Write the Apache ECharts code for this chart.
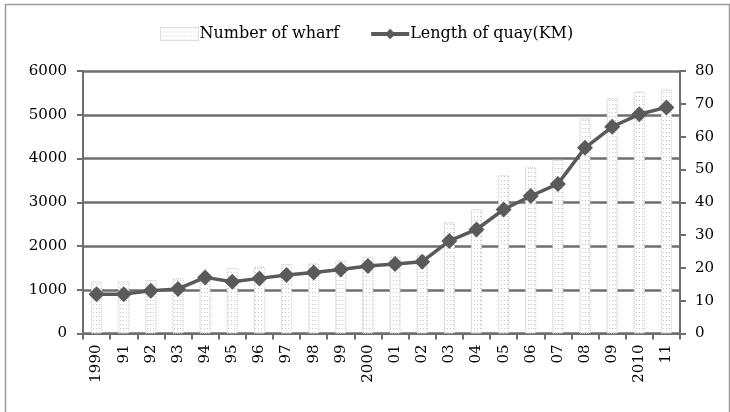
<!DOCTYPE html>
<html>
<head>
<meta charset="utf-8">
<script src="https://cdn.jsdelivr.net/npm/echarts@6/dist/echarts.min.js"></script>
<style>
  html, body { margin: 0; padding: 0; background: #ffffff; }
  #chart { width: 730px; height: 412px; }
</style>
</head>
<body>
<div id="chart"></div>
<script>
// categories (years)
var years = ["1990", "91", "92", "93", "94", "95", "96", "97", "98", "99", "2000",
  "01", "02", "03", "04", "05", "06", "07", "08", "09", "2010", "11"];
// number of wharf (left axis)
var wharfCount = [1185, 1190, 1225, 1260, 1300, 1500, 1525, 1590, 1600, 1665, 1755,
  1760, 1790, 2540, 2840, 3620, 3800, 3970, 4920, 5375, 5530, 5580];
// length of quay in km (right axis)
var quayLength = [12.0, 12.0, 13.0, 13.6, 17.1, 15.8, 16.8, 17.8, 18.6, 19.5, 20.6,
  21.2, 21.9, 28.2, 31.7, 37.8, 41.9, 45.6, 56.6, 63.0, 66.8, 68.9];
// tick settings
var leftTicks = { min: 0, max: 6000, interval: 1000 };
var rightTicks = { min: 0, max: 80, interval: 10 };

var font = "DejaVu Serif";
var axisGray = "#6e6e6e";

var myChart = echarts.init(document.getElementById("chart"));

// light dotted fill for the bars
var dotDecal = {
  symbol: "rect",
  symbolSize: 1,
  color: "#c6c6c6",
  dashArrayX: [1, 2],
  dashArrayY: [1, 3],
  rotation: 0
};

var options = {
  animation: false,
  backgroundColor: "#ffffff",
  textStyle: { fontFamily: font, color: "#000" },
  graphic: [
    {
      type: "rect",
      left: 3,
      top: 2,
      shape: { width: 724, height: 430 },
      style: { fill: "none", stroke: "#9a9a9a", lineWidth: 1.5 },
      silent: true
    }
  ],
  legend: {
    top: 21,
    left: 155,
    itemGap: 30,
    itemWidth: 38,
    itemHeight: 13,
    textStyle: { fontFamily: font, fontSize: 16, color: "#000", padding: [0, 0, 0, -4] },
    data: [
      {
        name: "Number of wharf",
        icon: "rect",
        itemStyle: { color: "#ffffff", borderColor: "#d4d4d4", borderWidth: 1, borderType: "dotted", decal: dotDecal }
      },
      { name: "Length of quay(KM)", lineStyle: { width: 4 } }
    ]
  },
  grid: {
    left: 83,
    right: 50,
    top: 71,
    bottom: 78.5
  },
  xAxis: {
    type: "category",
    data: years,
    boundaryGap: true,
    axisLine: { lineStyle: { color: axisGray, width: 2 } },
    axisTick: { show: true, length: 6, lineStyle: { color: axisGray, width: 2 } },
    axisLabel: {
      interval: 0,
      rotate: 90,
      margin: 11,
      fontFamily: font,
      fontSize: 15,
      color: "#000"
    }
  },
  yAxis: [
    {
      type: "value",
      min: leftTicks.min,
      max: leftTicks.max,
      interval: leftTicks.interval,
      axisLine: { show: true, lineStyle: { color: axisGray, width: 2 } },
      axisTick: { show: true, length: 6, lineStyle: { color: axisGray, width: 2 } },
      axisLabel: {
        margin: 16,
        fontFamily: font,
        fontSize: 15,
        color: "#000",
        formatter: function (v) { return String(v); }
      },
      splitLine: { show: true, lineStyle: { color: axisGray, width: 2.5 } }
    },
    {
      type: "value",
      min: rightTicks.min,
      max: rightTicks.max,
      interval: rightTicks.interval,
      position: "right",
      axisLine: { show: true, lineStyle: { color: axisGray, width: 2 } },
      axisTick: { show: true, length: 6, lineStyle: { color: axisGray, width: 2 } },
      axisLabel: { margin: 15, fontFamily: font, fontSize: 15, color: "#000" },
      splitLine: { show: false }
    }
  ],
  series: [
    {
      name: "Number of wharf",
      type: "bar",
      yAxisIndex: 0,
      data: wharfCount,
      barWidth: 11,
      itemStyle: {
        color: "#ffffff",
        borderColor: "#d4d4d4",
        borderWidth: 1,
        borderType: "dotted",
        decal: dotDecal
      }
    },
    {
      name: "Length of quay(KM)",
      type: "line",
      yAxisIndex: 1,
      data: quayLength,
      symbol: "diamond",
      symbolSize: 16,
      lineStyle: { color: "#5a5a5a", width: 3.5 },
      itemStyle: { color: "#5a5a5a" },
      z: 5
    }
  ]
};

myChart.setOption(options);
</script>
</body>
</html>
